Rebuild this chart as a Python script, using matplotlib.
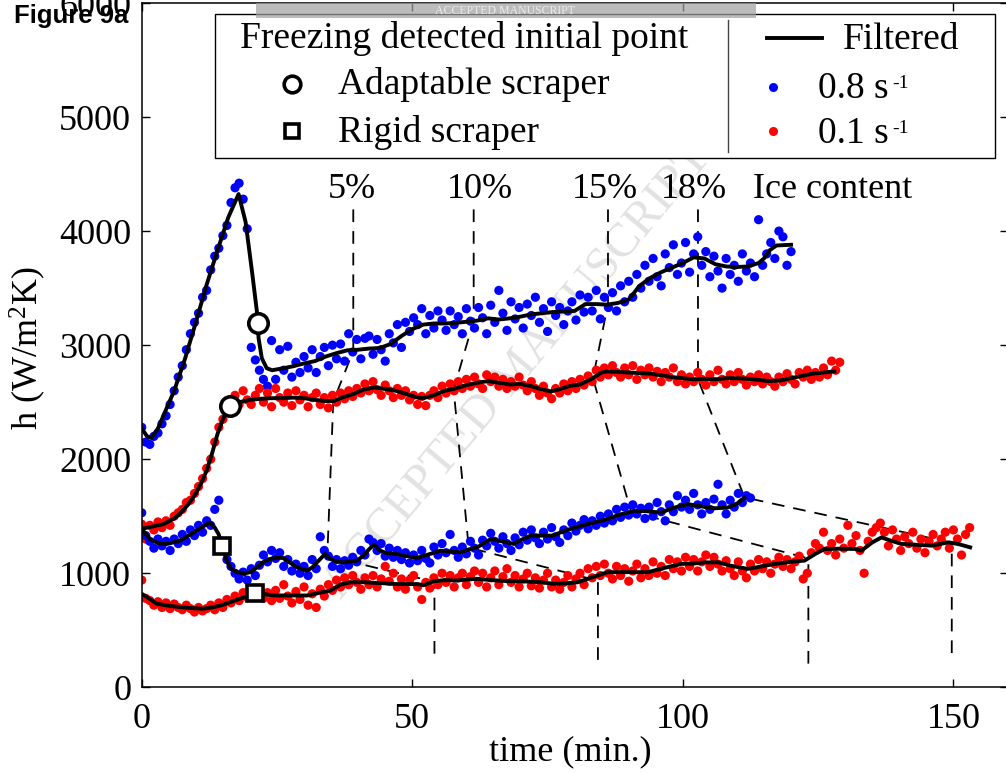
import numpy as np
import matplotlib
matplotlib.use('Agg')
import matplotlib.pyplot as plt
from matplotlib.patches import Rectangle

plt.rcParams['font.family'] = ['Liberation Serif', 'DejaVu Serif']
plt.rcParams['mathtext.fontset'] = 'custom'
plt.rcParams['mathtext.rm'] = 'Liberation Serif'
plt.rcParams['mathtext.it'] = 'Liberation Serif:italic'
plt.rcParams['mathtext.bf'] = 'Liberation Serif:bold'

# ---------------- data ----------------
sample_step = 0.75  # min between raw samples

# raw h values (W/m2K), 0.8 s-1, adaptable scraper
a_raw = [2280, 2150, 2130, 2200, 2230, 2310, 2380, 2480, 2600, 2720,
         2820, 2960, 3100, 3200, 3280, 3420, 3480, 3660, 3780, 3850,
         3960, 4050, 4250, 4380, 4420, 4280, 4020, 2980, 2870, 2780,
         2700, 2640, 3040, 2700, 2960, 2780, 2990, 2720, 2850, 2760,
         2900, 2800, 2960, 2760, 2900, 2980, 2820, 3000, 2880, 3010,
         2860, 3100, 2940, 3050, 2880, 3060, 3080, 2920, 3050, 2960,
         2860, 3100, 3020, 3180, 2980, 3200, 3120, 3240, 3180, 3320,
         3100, 3260, 3150, 3300, 3220, 3130, 3300, 3180, 3250, 3100,
         3320, 3210, 3150, 3330, 3240, 3100, 3350, 3200, 3480, 3280,
         3130, 3380, 3230, 3330, 3150, 3360, 3260, 3420, 3200, 3320,
         3120, 3380, 3260, 3330, 3180, 3300, 3380, 3220, 3440, 3290,
         3420, 3300, 3480, 3230, 3420, 3330, 3460, 3300, 3520, 3380,
         3560, 3420, 3620, 3500, 3700, 3560, 3760, 3600, 3520, 3800,
         3680, 3880, 3620, 3720, 3900, 3640, 3800, 3950, 3700, 3820,
         3600, 3780, 3650, 3500, 3760, 3620, 3700, 3560, 3800, 3650,
         3720, 3600, 4100, 3700, 3800, 3900, 3760, 4000, 3950, 3700,
         3820]
# 0.1 s-1, adaptable scraper
b_raw = [1430, 1300, 1420, 1380, 1450, 1400, 1460, 1420, 1500, 1530,
         1560, 1620, 1640, 1700, 1760, 1830, 1920, 2000, 2150, 2280,
         2350, 2430, 2520, 2560, 2480, 2600, 2520, 2480, 2560, 2620,
         2500, 2580, 2460, 2620, 2540, 2500, 2580, 2470, 2600, 2520,
         2560, 2460, 2540, 2580, 2480, 2540, 2450, 2560, 2500, 2580,
         2530, 2600, 2550, 2620, 2580, 2660, 2600, 2680, 2610, 2560,
         2650, 2600, 2540, 2620, 2560, 2600, 2520, 2560, 2480, 2550,
         2470, 2560, 2600, 2540, 2640, 2580, 2660, 2600, 2680, 2620,
         2700, 2640, 2720, 2660, 2620, 2740, 2680, 2720, 2640, 2700,
         2620, 2680, 2640, 2720, 2650, 2600, 2680, 2620, 2560, 2640,
         2580, 2530, 2620, 2580, 2660, 2600, 2680, 2620, 2700, 2650,
         2730, 2680, 2780, 2720, 2800, 2740, 2820, 2760, 2720, 2800,
         2740, 2820, 2700, 2780, 2740, 2800, 2720, 2770, 2680, 2760,
         2720, 2800, 2680, 2740, 2660, 2720, 2680, 2760, 2700, 2650,
         2740, 2680, 2780, 2700, 2660, 2740, 2680, 2760, 2700, 2650,
         2720, 2680, 2740, 2660, 2720, 2680, 2640, 2720, 2680, 2750,
         2700, 2660, 2760, 2720, 2780, 2700, 2760, 2720, 2800, 2740,
         2860, 2780, 2850]
# 0.8 s-1, rigid scraper
c_raw = [1530, 1330, 1280, 1220, 1300, 1240, 1280, 1200, 1300, 1260,
         1340, 1280, 1380, 1330, 1420, 1360, 1460, 1420, 1560, 1640,
         1250, 1120, 1060, 1000, 950, 1010, 940, 1040, 980, 1070,
         1160, 1100, 1200, 1130, 1180, 1060, 1120, 1020, 1080, 1000,
         1060, 980, 1120, 1040, 1320, 1200, 1150, 1060, 1120, 1040,
         1110, 1070, 1140, 1100, 1200, 1160, 1300, 1270, 1200, 1260,
         1150, 1220, 1140, 1200, 1120, 1180, 1090, 1160, 1110, 1200,
         1130, 1090, 1230, 1160, 1260, 1180, 1340, 1200, 1140, 1230,
         1170, 1280, 1220, 1160, 1290, 1240, 1350, 1280, 1220, 1320,
         1260, 1200, 1310, 1250, 1360, 1290, 1380, 1310, 1260, 1360,
         1300, 1400, 1320, 1270, 1380, 1330, 1440, 1370, 1420, 1470,
         1390, 1460, 1420, 1500, 1440, 1520, 1460, 1560, 1490, 1580,
         1510, 1600, 1520, 1570, 1480, 1580, 1500, 1620, 1540, 1460,
         1600, 1540, 1680, 1580, 1640, 1560, 1700, 1600, 1520, 1620,
         1560, 1650, 1780, 1600, 1520, 1640, 1580, 1700, 1620, 1680,
         1660]
# 0.1 s-1, rigid scraper
d_raw = [940, 780, 760, 720, 750, 700, 740, 690, 730, 700,
         680, 720, 690, 660, 700, 670, 690, 720, 680, 740,
         700, 770, 740, 800, 760, 830, 790, 850, 800, 860,
         780, 830, 760, 850, 780, 900, 800, 740, 840, 770,
         880, 720, 820, 700, 860, 800, 900, 850, 940, 880,
         960, 900, 980, 920, 860, 960, 900, 980, 880, 950,
         1060, 930, 1000, 880, 950, 860, 940, 980, 880, 770,
         920, 870, 960, 900, 1000, 920, 980, 880, 960, 1000,
         900, 970, 1020, 920, 1000, 880, 960, 1020, 900, 970,
         1040, 920, 980, 880, 950, 1000, 890, 960, 870, 940,
         1000, 880, 940, 860, 920, 980, 880, 950, 1000, 900,
         1040, 960, 1060, 980, 1080, 1000, 950, 1060, 980, 1040,
         930, 1020, 1080, 960, 1040, 980, 1100, 1000, 1060, 980,
         1120, 1040, 1100, 1020, 1140, 1060, 1120, 1020, 1100, 1160,
         1060, 1140, 1080, 1020, 1110, 1040, 980, 1100, 1020, 960,
         1080, 1020, 1120, 1040, 1100, 1000, 1080, 1140, 1060, 1120,
         1040, 1100, 1150, 950, 1000, 1180, 1260, 1220, 1360, 1200,
         1260, 1160, 1300, 1220, 1420, 1260, 1330, 1200, 1000, 1280,
         1360, 1400, 1440, 1360, 1240, 1380, 1300, 1200, 1320, 1260,
         1360, 1220, 1300, 1180, 1280, 1340, 1240, 1300, 1360, 1220,
         1380, 1300, 1160, 1340, 1400]

# filtered curves
a_filt_t = [0, 1, 1.85, 3, 4, 6, 8, 10, 12, 14, 16, 17.9, 19.2, 20.4, 21.3, 21.6, 22.2,
            23.1, 24.1, 26.2, 28, 30, 32, 34, 36, 38, 40, 42, 44, 46, 48, 50, 52, 54,
            56, 58, 60, 62, 64, 66, 68, 70, 72, 74, 76, 78, 80, 82, 84, 86, 88, 90,
            92, 94, 96, 98, 100, 102, 104, 106, 108, 110, 112, 114, 115, 116, 117.3, 120]
a_filt_h = [2270, 2200, 2187, 2270, 2380, 2600, 2880, 3200, 3530, 3830, 4120, 4325, 4080,
            3640, 3290, 3060, 2885, 2798, 2780, 2798, 2815, 2840, 2860, 2900, 2930, 2955,
            2960, 2970, 2975, 3010, 3080, 3140, 3180, 3190, 3190, 3195, 3205, 3215, 3235,
            3225, 3235, 3250, 3270, 3280, 3290, 3295, 3300, 3360, 3360, 3355, 3370, 3400,
            3520, 3590, 3640, 3680, 3720, 3770, 3760, 3710, 3690, 3685, 3690, 3720, 3760,
            3830, 3874, 3880]
b_filt_t = [0, 2, 4, 6, 7, 8, 9, 10, 11, 12, 13, 14, 15, 16, 16.4, 17, 18, 20, 22, 24,
            26, 28, 30, 32, 34, 35.5, 37, 39, 41, 43, 45, 47, 49, 51, 52, 54, 56, 58, 60, 62,
            64, 66, 68, 70, 72, 74, 75.6, 77, 79, 81, 83, 85, 86, 88, 90, 92, 94, 96, 98, 100,
            102, 104, 106, 108, 110, 112, 114, 116, 118, 120, 122, 124, 126, 128]
b_filt_h = [1390, 1410, 1430, 1480, 1520, 1570, 1630, 1700, 1790, 1900, 2050, 2220, 2350,
            2450, 2461, 2490, 2500, 2520, 2530, 2535, 2535, 2540, 2535, 2520, 2510, 2510,
            2540, 2570, 2610, 2630, 2615, 2600, 2570, 2540, 2535, 2560, 2600, 2620, 2650,
            2670, 2685, 2670, 2655, 2660, 2640, 2610, 2595, 2610, 2640, 2655, 2700, 2760,
            2770, 2765, 2760, 2755, 2750, 2735, 2720, 2710, 2700, 2705, 2700, 2710, 2710,
            2705, 2695, 2685, 2690, 2710, 2730, 2750, 2760, 2770]
c_filt_t = [0, 1.5, 3, 4, 5, 7, 9, 11, 12.6, 13.5, 14.2, 15, 15.7, 16.5, 17.6, 19, 20.1,
            21.3, 22.5, 23.8, 25, 26.2, 27.5, 28.7, 30, 30.6, 31.5, 32.4, 33.9, 34.7, 35.5,
            37, 38, 39.8, 41, 42, 42.9, 44, 45, 47, 49, 50.9, 53, 55.2, 57, 58.9, 60.5, 62,
            64.5, 66.5, 68.8, 70, 71.9, 74, 76, 78, 80, 82.4, 84, 86.1, 88, 91, 93, 96, 98,
            100.9, 103, 104.6, 106, 108.3, 110, 111.4]
c_filt_h = [1390, 1300, 1265, 1257, 1260, 1285, 1340, 1400, 1445, 1400, 1344, 1230, 1111,
            1040, 1009, 1000, 1009, 1052, 1100, 1126, 1135, 1134, 1090, 1052, 1030, 1024,
            1050, 1096, 1169, 1130, 1111, 1095, 1100, 1111, 1155, 1210, 1250, 1200, 1180,
            1169, 1150, 1135, 1165, 1198, 1190, 1183, 1210, 1227, 1300, 1280, 1257, 1290,
            1330, 1330, 1330, 1370, 1400, 1431, 1450, 1475, 1510, 1547, 1545, 1532, 1570,
            1606, 1590, 1576, 1570, 1576, 1610, 1663]
d_filt_t = [0, 1, 2.8, 5, 7.1, 9, 11.4, 13, 14.6, 16, 18.2, 21, 23, 24.4, 27.5, 30.6, 33,
            34.9, 36.7, 38.6, 41, 44.7, 47, 50.9, 52.1, 54, 56, 58.3, 60, 62, 64.5, 68, 70.1,
            73.8, 76.2, 78, 80.6, 83, 86.1, 90, 93.5, 96, 99.7, 102, 104, 106.5, 109, 112,
            114, 117, 120, 122.5, 124.5, 126.2, 129, 131.8, 133, 135, 136.7, 138.5, 140.4,
            143, 146, 149.1, 151, 153.1]
d_filt_h = [820, 790, 733, 715, 703, 695, 689, 700, 718, 740, 777, 820, 815, 805, 805, 805,
            830, 849, 900, 921, 921, 912, 905, 905, 895, 930, 940, 936, 945, 951, 940, 930,
            930, 921, 907, 910, 921, 960, 1009, 1010, 1009, 1040, 1082, 1085, 1095, 1096,
            1065, 1038, 1055, 1082, 1100, 1111, 1170, 1213, 1215, 1213, 1198, 1270, 1314,
            1285, 1257, 1250, 1242, 1271, 1255, 1227]

# freezing detected initial points
adapt_t = [21.5, 16.4]
adapt_h = [3190, 2464]
rigid_t = [14.8, 21.0]
rigid_h = [1242, 829]

# iso ice-content guide lines
ice_labels = ['5%', '10%', '15%', '18%']
ice_label_t = [38.8, 62.5, 85.6, 102.0]
ice5_t = [39.1, 39.1, 35.4, 34.3, 54.1, 54.1]
ice5_h = [4190, 2950, 2505, 1150, 925, 264]
ice10_t = [61.35, 61.35, 57.65, 60.43, 84.31, 84.31]
ice10_h = [4190, 3215, 2610, 1225, 935, 212]
ice15_t = [86.17, 86.17, 83.39, 90.43, 123.2, 123.2]
ice15_h = [4190, 3360, 2710, 1540, 1130, 168]
ice18_t = [102.8, 102.8, 111.4, 149.7, 149.7]
ice18_h = [4190, 2700, 1665, 1268, 264]

x_ticks = [0, 50, 100, 150]
y_ticks = [0, 1000, 2000, 3000, 4000, 5000, 6000]

# ---------------- figure ----------------
W, H = 1006, 773
fig = plt.figure(figsize=(W / 100, H / 100), dpi=100)
ax_l, ax_r, ax_b, ax_t = 141.7, 1007.5, 687.3, 3.0
ax = fig.add_axes([ax_l / W, 1 - ax_b / H, (ax_r - ax_l) / W, (ax_b - ax_t) / H])
ax.set_xlim(0, 160)
ax.set_ylim(0, 6000)
ax.set_xticks(x_ticks)
ax.set_yticks(y_ticks)
for s in ax.spines.values():
    s.set_linewidth(1.1)
ax.tick_params(direction='in', length=5.5, width=1.0, top=True, right=True,
               labelsize=26)
ax.tick_params(axis='x', pad=11)
ax.tick_params(axis='y', pad=7.5)

# watermark
ax.text(69.5, 2769, 'ACCEPTED MANUSCRIPT', rotation=50, rotation_mode='anchor',
        ha='center', va='center', fontsize=35, color='#e2e2e2', zorder=0.5)

dash_kw = dict(color='black', lw=1.3, dashes=(7, 5), zorder=1)
for tt, hh in [(ice5_t, ice5_h), (ice10_t, ice10_h), (ice15_t, ice15_h), (ice18_t, ice18_h)]:
    ax.plot(tt, hh, **dash_kw)

label_h = 4287
for lab, t in zip(ice_labels, ice_label_t):
    ax.text(t, label_h, lab, ha='center', va='baseline', fontsize=26)
ax.text(113.0, label_h, 'Ice content', ha='left', va='baseline', fontsize=26)

for raw, col in [(a_raw, '#0000ff'), (b_raw, '#ff0000'), (c_raw, '#0000ff'), (d_raw, '#ff0000')]:
    t = np.arange(len(raw)) * sample_step
    ax.scatter(t, raw, s=44, color=col, edgecolors='none', zorder=2)

for tt, hh in [(a_filt_t, a_filt_h), (b_filt_t, b_filt_h), (c_filt_t, c_filt_h), (d_filt_t, d_filt_h)]:
    ax.plot(tt, hh, color='black', lw=2.8, solid_joinstyle='round', zorder=3)

ax.plot(adapt_t, adapt_h, ls='none', marker='o', ms=14, mfc='white', mec='black',
        mew=2.6, zorder=4)
ax.plot(rigid_t, rigid_h, ls='none', marker='s', ms=12, mfc='white', mec='black',
        mew=2.6, zorder=4)

fig.text(570 / W, 1 - 760 / H, 'time (min.)', ha='center', va='baseline', fontsize=26)
fig.text(28 / W, 1 - 348 / H, r'h (W/$\mathrm{m}^2$K)', ha='center', va='center',
         rotation=90, fontsize=26)

# ---------------- overlay: legend, banner ----------------
ov = fig.add_axes([0, 0, 1, 1], zorder=5)
ov.set_xlim(0, W)
ov.set_ylim(H, 0)
ov.axis('off')

leg_fs = 27
ov.add_patch(Rectangle((215, 14), 780, 144, fc='white', ec='black', lw=1.0, zorder=1))
ov.plot([728, 728], [20, 152], color='#444444', lw=1.0, zorder=2)
ov.text(240, 48, 'Freezing detected initial point', fontsize=leg_fs, va='baseline', ha='left', zorder=2)
ov.plot([292], [84], marker='o', ms=12, mfc='white', mec='black', mew=2.6, zorder=2)
ov.text(338, 94, 'Adaptable scraper', fontsize=leg_fs, va='baseline', ha='left', zorder=2)
ov.plot([292], [131], marker='s', ms=10.5, mfc='white', mec='black', mew=2.6, zorder=2)
ov.text(338, 142, 'Rigid scraper', fontsize=leg_fs, va='baseline', ha='left', zorder=2)
ov.plot([767, 822], [38, 38], color='black', lw=2.8, zorder=2)
ov.text(843, 49, 'Filtered', fontsize=leg_fs, va='baseline', ha='left', zorder=2)
ov.plot([773], [87], marker='o', ms=6.5, color='#0000ff', mec='none', zorder=2)
ov.text(818, 98, '0.8 s', fontsize=leg_fs, va='baseline', ha='left', zorder=2)
ov.text(892, 88, '-1', fontsize=14, va='baseline', ha='left', zorder=2)
ov.plot([773], [131], marker='o', ms=6.5, color='#ff0000', mec='none', zorder=2)
ov.text(818, 143, '0.1 s', fontsize=leg_fs, va='baseline', ha='left', zorder=2)
ov.text(892, 133, '-1', fontsize=14, va='baseline', ha='left', zorder=2)

ov.add_patch(Rectangle((256, 3), 500, 15, fc='#a0a0a0', ec='none', alpha=0.7, zorder=10))
ov.text(505, 11, 'ACCEPTED MANUSCRIPT', fontsize=8.5, color='#ececec', ha='center',
        va='center', zorder=11)

ov.text(14, 23, 'Figure 9a', family=['Liberation Sans', 'DejaVu Sans'], weight='bold',
        fontsize=18.5, va='baseline', ha='left', zorder=12)

fig.savefig('out.png', dpi=100)
